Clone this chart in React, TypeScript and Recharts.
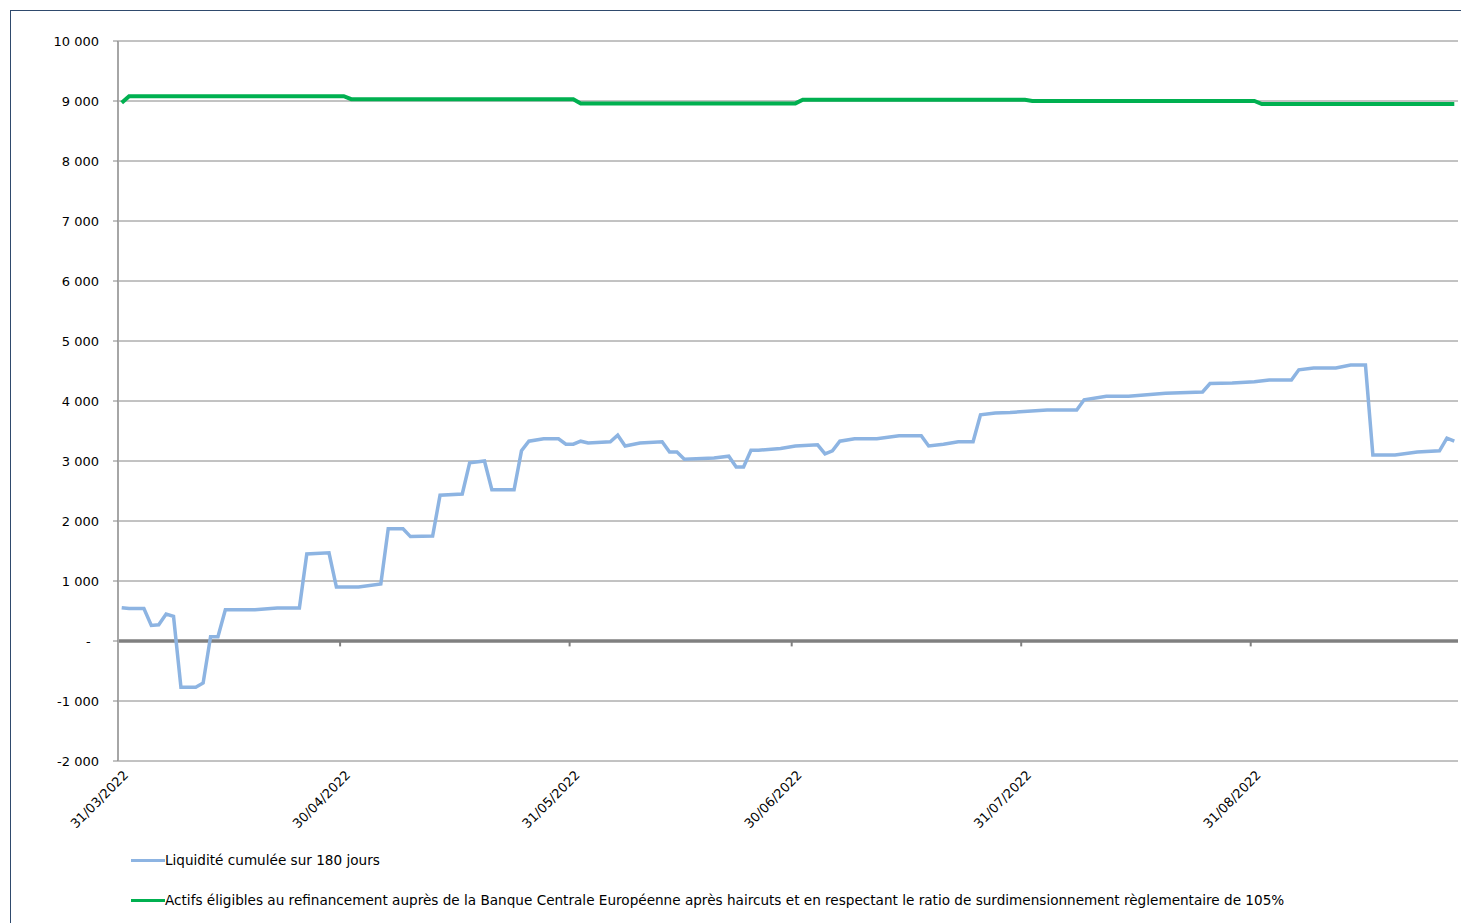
import React from "react";
import { LineChart, Line, XAxis, YAxis, CartesianGrid, ReferenceLine } from "recharts";

// day 0 = 31/03/2022, one point per calendar day (only the break points are listed)
const liquidityDays = [
  0, 1, 3, 4, 5, 6, 7, 8, 10, 11, 12, 13, 14, 18, 21, 24, 25, 28, 29, 32, 35, 36, 38, 39, 42, 43,
  46, 47, 49, 50, 53, 54, 55, 57, 59, 60, 61, 62, 63, 66, 67, 68, 70, 73, 74, 75, 76, 80, 82, 83,
  84, 85, 86, 89, 91, 94, 95, 96, 97, 99, 102, 105, 108, 109, 111, 113, 115, 116, 118, 120, 125,
  129, 130, 133, 136, 141, 146, 147, 150, 153, 155, 158, 159, 161, 164, 166, 168, 169, 172, 175,
  178, 179, 180,
];
const liquidityValues = [
  555, 540, 540, 260, 270, 450, 410, -770, -770, -700, 70, 70, 520, 520, 550, 550, 1450, 1470, 900,
  900, 950, 1870, 1870, 1740, 1750, 2430, 2450, 2970, 3000, 2520, 2520, 3170, 3330, 3370, 3370,
  3280, 3280, 3330, 3300, 3320, 3430, 3250, 3300, 3320, 3150, 3150, 3030, 3050, 3080, 2900, 2900,
  3180, 3180, 3210, 3250, 3270, 3120, 3170, 3330, 3370, 3370, 3420, 3420, 3250, 3280, 3320, 3320,
  3770, 3800, 3810, 3850, 3850, 4020, 4080, 4080, 4130, 4150, 4290, 4300, 4320, 4350, 4350, 4520,
  4550, 4550, 4600, 4600, 3100, 3100, 3150, 3170, 3380, 3330,
];

const eligibleDays = [0, 1, 30, 31, 61, 62, 91, 92, 122, 123, 153, 154, 180];
const eligibleValues = [8970, 9080, 9080, 9030, 9030, 8960, 8960, 9020, 9020, 9000, 9000, 8950, 8950];

const dateTicks = ["31/03/2022", "30/04/2022", "31/05/2022", "30/06/2022", "31/07/2022", "31/08/2022"];
const yTicks = [-2000, -1000, 0, 1000, 2000, 3000, 4000, 5000, 6000, 7000, 8000, 9000, 10000];

const seriesNames = [
  "Liquidité cumulée sur 180 jours",
  "Actifs éligibles au refinancement auprès de la Banque Centrale Européenne après haircuts et en respectant le ratio de surdimensionnement règlementaire de 105%",
];
const seriesColors = ["#8db4e2", "#00b050"];

const toDay = (label: string) => {
  const [d, m, y] = label.split("/").map(Number);
  return Math.round((Date.UTC(y, m - 1, d) - Date.UTC(2022, 2, 31)) / 86400000);
};

// Excel puts the date tick at the start of the day slot, the point in its middle
const tickPositions = dateTicks.map((t) => toDay(t) - 0.5);
const tickLabel: Record<number, string> = {};
tickPositions.forEach((p, i) => (tickLabel[p] = dateTicks[i]));

const liquidityData = liquidityDays.map((day, i) => ({ day, value: liquidityValues[i] }));
const eligibleData = eligibleDays.map((day, i) => ({ day, value: eligibleValues[i] }));

const formatY = (v: number) => {
  if (v === 0) return "-\u00a0\u00a0";
  const s = Math.abs(v).toString().replace(/\B(?=(\d{3})+(?!\d))/g, " ");
  return v < 0 ? `-${s}` : s;
};

const DateTick = (props: any) => {
  const { x, y, payload } = props;
  const tx = x + 11;
  const ty = y + 15;
  return (
    <text x={tx} y={ty} textAnchor="end" fontSize={13} fill="#000" transform={`rotate(-45, ${tx}, ${ty})`}>
      {tickLabel[payload.value]}
    </text>
  );
};

export default function App() {
  return (
    <div
      style={{
        position: "absolute",
        left: 0,
        top: 0,
        width: 1461,
        height: 923,
        overflow: "hidden",
        background: "#fff",
        fontFamily: "'DejaVu Sans', Tahoma, sans-serif",
      }}
    >
      <div
        style={{
          position: "absolute",
          left: 10,
          top: 10,
          width: 1600,
          height: 1000,
          borderLeft: "1px solid #2f4a6d",
          borderTop: "1px solid #2f4a6d",
        }}
      />
      <div style={{ position: "absolute", left: 0, top: 0 }}>
        <LineChart width={1461} height={923} margin={{ top: 41, right: 3, left: 0, bottom: 0 }}>
          <CartesianGrid horizontal vertical={false} stroke="#868686" />
          <XAxis
            dataKey="day"
            type="number"
            domain={[-0.5, 180.5]}
            ticks={tickPositions}
            interval={0}
            allowDuplicatedCategory={false}
            axisLine={false}
            tickLine={false}
            tickSize={0}
            tickMargin={0}
            height={162}
            tick={<DateTick />}
          />
          <YAxis
            type="number"
            domain={[-2000, 10000]}
            ticks={yTicks}
            interval={0}
            width={118}
            tickFormatter={formatY}
            tick={{ fill: "#000", fontSize: 13 }}
            tickSize={5}
            tickMargin={14}
            tickLine={{ stroke: "#868686" }}
            axisLine={{ stroke: "#a6a6a6", strokeWidth: 2 }}
          />
          <ReferenceLine y={0} stroke="#808080" strokeWidth={3.5} />
          {tickPositions.map((p) => (
            <ReferenceLine
              key={p}
              segment={[
                { x: p, y: 0 },
                { x: p, y: -90 },
              ]}
              stroke="#808080"
              strokeWidth={2}
            />
          ))}
          <Line
            data={eligibleData}
            dataKey="value"
            name={seriesNames[1]}
            stroke={seriesColors[1]}
            strokeWidth={4}
            dot={false}
            isAnimationActive={false}
          />
          <Line
            data={liquidityData}
            dataKey="value"
            name={seriesNames[0]}
            stroke={seriesColors[0]}
            strokeWidth={3.5}
            dot={false}
            isAnimationActive={false}
          />
        </LineChart>
      </div>
      {seriesNames.map((name, i) => (
        <div
          key={name}
          style={{
            position: "absolute",
            left: 131,
            top: 851 + i * 40,
            height: 18,
            display: "flex",
            alignItems: "center",
            fontSize: 13.6,
            color: "#000",
            whiteSpace: "nowrap",
          }}
        >
          <span style={{ display: "inline-block", width: 34, height: 3, background: seriesColors[i] }} />
          <span>{name}</span>
        </div>
      ))}
    </div>
  );
}
